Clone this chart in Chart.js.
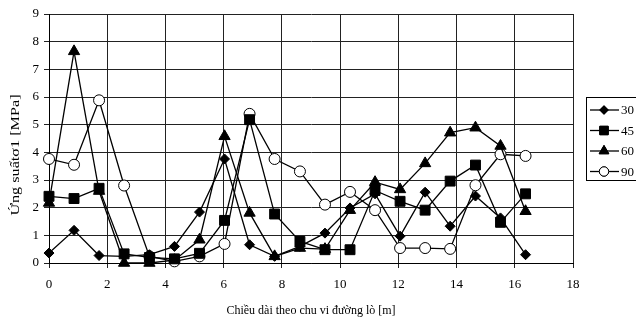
<!DOCTYPE html>
<html>
<head>
<meta charset="utf-8">
<script src="https://cdn.jsdelivr.net/npm/chart.js@4"></script>
<style>
  html, body { margin: 0; padding: 0; background: #fff; }
  #wrap { width: 636px; height: 322px; position: relative; }
</style>
</head>
<body>
<div id="wrap"><canvas id="myChart"></canvas></div>
<script>
// vi tri diem do (m) doc theo chu vi
const xPos = [0, 0.86, 1.72, 2.58, 3.45, 4.31, 5.17, 6.03, 6.89, 7.75, 8.62, 9.48, 10.34, 11.2, 12.06, 12.92, 13.78, 14.65, 15.51, 16.37]
const seriesNames = ["30", "45", "60", "90"]
const s30 = [0.36, 1.18, 0.27, 0.24, 0.3, 0.6, 1.84, 3.76, 0.66, 0.24, 0.6, 1.08, 1.99, 2.5, 0.97, 2.56, 1.33, 2.42, 1.63, 0.3]
const s45 = [2.41, 2.33, 2.7, 0.33, 0.2, 0.15, 0.35, 1.54, 5.18, 1.77, 0.78, 0.48, 0.48, 2.62, 2.23, 1.91, 2.96, 3.54, 1.47, 2.5]
const s60 = [2.17, 7.65, 2.6, 0.0, 0.0, 0.1, 0.84, 4.58, 1.81, 0.24, 0.54, 0.5, 1.91, 2.92, 2.66, 3.6, 4.71, 4.89, 4.23, 1.87]
const s90 = [3.76, 3.55, 5.88, 2.8, 0.24, 0.06, 0.24, 0.69, 5.39, 3.76, 3.31, 2.11, 2.57, 1.91, 0.54, 0.54, 0.51, 2.81, 3.93, 3.87]
const xTitle = "Chiều dài theo chu vi đường lò [m]"
const yTitle = "Ứng suấtσ1 [MPa]"

const FONT = "'Liberation Serif', 'Times New Roman', serif"

function pts(ys) {
  return ys.map((y, i) => ({ x: xPos[i], y: y }))
}

const styles = [
  { pointStyle: "rectRot", radius: 5, fill: "#000" },
  { pointStyle: "rect", radius: 7, fill: "#000" },
  { pointStyle: "triangle", radius: 6.5, fill: "#000" },
  { pointStyle: "circle", radius: 5.5, fill: "#fff" }
]

const allData = [s30, s45, s60, s90]

const datasets = allData.map((ys, k) => ({
  label: seriesNames[k],
  data: pts(ys),
  borderColor: "#000",
  borderWidth: 1.3,
  tension: 0,
  pointStyle: styles[k].pointStyle,
  pointRadius: styles[k].radius,
  pointBackgroundColor: styles[k].fill,
  pointBorderColor: "#000",
  pointBorderWidth: 1,
  clip: false
}))

// legend ve tay (co khung, co duong + marker)
const boxLegend = {
  id: "boxLegend",
  afterDraw(chart) {
    const ctx = chart.ctx
    ctx.save()
    ctx.strokeStyle = "#000"
    ctx.lineWidth = 1
    ctx.strokeRect(586.5, 97.5, 60, 83)
    ctx.font = "13px " + FONT
    ctx.textBaseline = "middle"
    ctx.fillStyle = "#000"
    datasets.forEach((ds, k) => {
      const y = 110 + k * 20.5
      ctx.beginPath()
      ctx.moveTo(590, y)
      ctx.lineTo(619, y)
      ctx.lineWidth = 1.3
      ctx.stroke()
      ctx.fillStyle = styles[k].fill
      ctx.lineWidth = 1
      Chart.helpers.drawPoint(ctx, { pointStyle: ds.pointStyle, radius: ds.pointRadius * 0.85, borderWidth: 1 }, 604, y)
      ctx.fill()
      ctx.stroke()
      ctx.fillStyle = "#000"
      ctx.fillText(ds.label, 621, y + 1)
    })
    ctx.restore()
  }
}

// ten truc y (xoay doc)
const yTitlePlugin = {
  id: "yTitlePlugin",
  afterDraw(chart) {
    const ctx = chart.ctx
    ctx.save()
    ctx.translate(16, 155)
    ctx.rotate(-Math.PI / 2)
    ctx.scale(1.35, 1)
    ctx.font = "12px " + FONT
    ctx.textAlign = "center"
    ctx.textBaseline = "middle"
    ctx.fillStyle = "#000"
    ctx.fillText(yTitle, 0, 0)
    ctx.restore()
  }
}

new Chart(document.getElementById("myChart"), {
  type: "line",
  data: { datasets },
  options: {
    responsive: true,
    maintainAspectRatio: false,
    animation: false,
    layout: { padding: { top: 14, right: 63, left: 0, bottom: 0 } },
    plugins: {
      legend: { display: false },
      tooltip: { enabled: false }
    },
    scales: {
      x: {
        type: "linear",
        min: 0,
        max: 18,
        afterFit(scale) { scale.height = 59 },
        grid: { color: "#222", lineWidth: 1, tickLength: 5 },
        border: { color: "#000", width: 1 },
        ticks: {
          stepSize: 2,
          color: "#000",
          padding: 9,
          font: { family: FONT, size: 13 }
        },
        title: {
          display: true,
          text: xTitle,
          color: "#000",
          font: { family: FONT, size: 12 },
          padding: { top: 5 }
        }
      },
      y: {
        min: 0,
        max: 9,
        afterFit(scale) { scale.width = 49 },
        grid: { color: "#222", lineWidth: 1, tickLength: 5 },
        border: { color: "#000", width: 1 },
        ticks: {
          stepSize: 1,
          color: "#000",
          padding: 5,
          font: { family: FONT, size: 13 }
        }
      }
    }
  },
  plugins: [boxLegend, yTitlePlugin]
})
</script>
</body>
</html>
